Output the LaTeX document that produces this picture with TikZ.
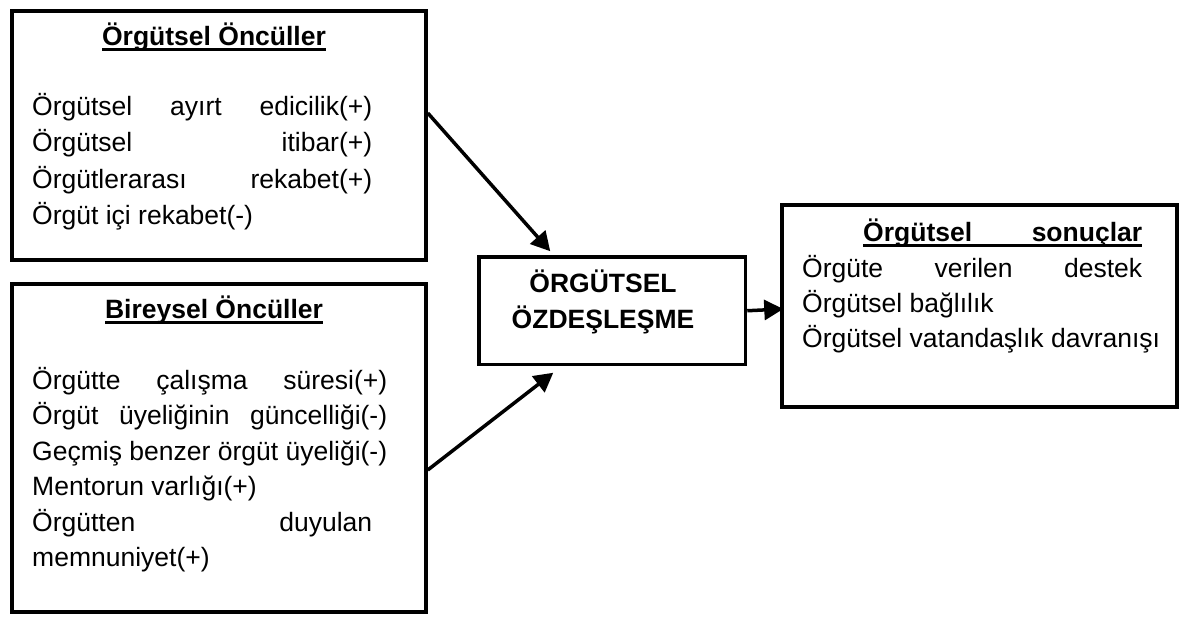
\documentclass[tikz,border=0pt]{standalone}
\usepackage{fontspec}
\setmainfont{Liberation Sans}
\usetikzlibrary{arrows.meta}

% underlined heading: rule drawn under the full width of the text
\newcommand{\ulined}[1]{\setbox0\hbox{#1}\rlap{\rule[-5pt]{\wd0}{2.5pt}}\box0}
% justified line of a given width
\newcommand{\jline}[2]{\makebox[#1][s]{#2}}

\tikzset{
  frame/.style={draw, line width=3.5pt, rectangle, inner sep=0pt},
  txt/.style={anchor=base west, inner sep=0pt, font=\fontsize{26.5}{30}\selectfont},
  ttl/.style={anchor=base, inner sep=0pt, font=\fontsize{26.5}{30}\selectfont\bfseries},
  arr/.style={line width=3.5pt, -{Triangle[length=19pt,width=20pt]}},
}

\begin{document}
\begin{tikzpicture}[x=1pt,y=-1pt]
\useasboundingbox (0,0) rectangle (1182,617);

% frames
\node[frame, minimum width=414pt, minimum height=249pt] (o1) at (219,135.5) {};
\node[frame, minimum width=414pt, minimum height=328pt] (o2) at (219,448) {};
\node[frame, minimum width=266.5pt, minimum height=107.5pt] (oz) at (612.25,310.75) {};
\node[frame, minimum width=395pt, minimum height=202pt] (os) at (979.5,306) {};

% organisational antecedents
\node[ttl] (o1t) at (214,46) {\ulined{Örgütsel Öncüller}};
\node[txt] (o1a) at (32,116) {\jline{340pt}{Örgütsel ayırt edicilik(+)}};
\node[txt] (o1b) at (32,152) {\jline{340pt}{Örgütsel itibar(+)}};
\node[txt] (o1c) at (32,188.5) {\jline{340pt}{Örgütlerarası rekabet(+)}};
\node[txt] (o1d) at (32,224.5) {Örgüt içi rekabet(-)};

% individual antecedents
\node[ttl] (o2t) at (214,319) {\ulined{Bireysel Öncüller}};
\node[txt] (o2a) at (32,389) {\jline{355pt}{Örgütte çalışma süresi(+)}};
\node[txt] (o2b) at (32,424.5) {\jline{355pt}{Örgüt üyeliğinin güncelliği(-)}};
\node[txt] (o2c) at (32,460) {\jline{355pt}{Geçmiş benzer örgüt üyeliği(-)}};
\node[txt] (o2d) at (32,495.5) {Mentorun varlığı(+)};
\node[txt] (o2e) at (32,531) {\jline{340pt}{Örgütten duyulan}};
\node[txt] (o2f) at (32,566.5) {memnuniyet(+)};

% identification
\node[ttl] (ozt1) at (603,293) {ÖRGÜTSEL};
\node[ttl] (ozt2) at (603,328) {ÖZDEŞLEŞME};

% outcomes
\node[txt, font=\fontsize{26.5}{30}\selectfont\bfseries] (ost) at (863,242) {\ulined{\jline{279pt}{Örgütsel sonuçlar}}};
\node[txt] (osa) at (802,277.5) {\jline{340pt}{Örgüte verilen destek}};
\node[txt] (osb) at (802,312.5) {Örgütsel bağlılık};
\node[txt] (osc) at (802,347.5) {Örgütsel vatandaşlık davranışı};

% connectors
\draw[arr] ([yshift=22.5pt]o1.east) -- ([xshift=-62pt,yshift=4pt]oz.north);
\draw[arr] ([yshift=-22pt]o2.east) -- ([xshift=-59pt,yshift=-6.5pt]oz.south);
\draw[arr] (oz.east) -- ([xshift=3pt,yshift=-3pt]os.west);
\end{tikzpicture}
\end{document}
